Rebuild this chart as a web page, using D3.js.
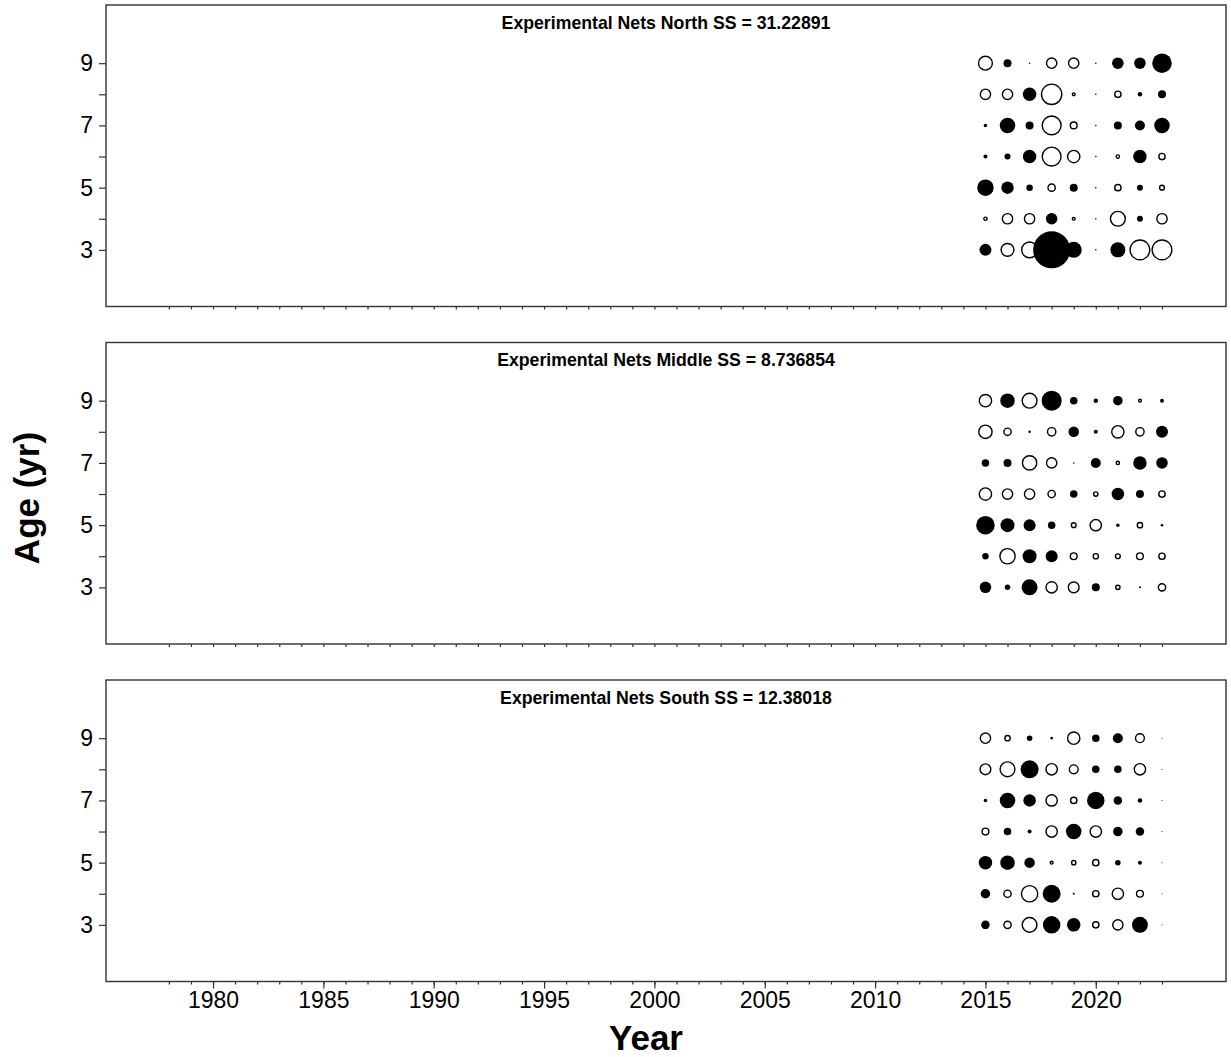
<!DOCTYPE html>
<head>
<meta charset="utf-8">
<script src="https://d3js.org/d3.v7.min.js"></script>
<style>
  body { margin: 0; background: #fff; }
  svg text { font-family: "Liberation Sans", Arial, sans-serif; fill: #000; }
</style>
</head>
<body>
<div id="my_dataviz"></div>
<script>

// years and ages of the bubble grid
var years = [2015, 2016, 2017, 2018, 2019, 2020, 2021, 2022, 2023];
var ages = [3, 4, 5, 6, 7, 8, 9];

var panelTitles = [
  "Experimental Nets North SS = 31.22891",
  "Experimental Nets Middle SS = 8.736854",
  "Experimental Nets South SS = 12.38018"
];

// residuals, one row per age (3..9), one column per year; positive = filled
var northRes = [
  [ 1.2, -1.4, -1.7,  3.7,  1.6, 0.15,  1.5, -2.1, -2.1],
  [-0.45, -1.15, -1.15, 1.15, -0.4, 0.15, -1.6, 0.6, -1.15],
  [ 1.65, 1.25, 0.65, -0.85, 0.8, 0.15, -0.75, 0.6, -0.6],
  [ 0.4, 0.6, 1.35, -2.0, -1.35, 0.15, -0.45, 1.35, -0.75],
  [ 0.35, 1.55, 0.8, -2.0, -0.8, 0.15, 0.8, 1.0, 1.55],
  [-1.15, -1.15, 1.35, -2.15, -0.4, 0.15, -0.75, 0.45, 0.8],
  [-1.5, 0.8, 0.15, -1.15, -1.15, 0.15, 1.15, 1.15, 1.95]
];
var middleRes = [
  [ 1.15, 0.55, 1.6, -1.25, -1.2, 0.8, -0.55, 0.2, -0.85],
  [ 0.65, -1.65, 1.4, 1.2, -0.8, -0.65, -0.6, -0.8, -0.75],
  [ 1.85, 1.4, 1.2, 0.75, -0.6, -1.25, 0.35, -0.65, 0.25],
  [-1.35, -1.15, -1.15, -0.85, 0.75, -0.55, 1.25, 0.8, -0.75],
  [ 0.75, 0.8, -1.55, -1.15, 0.15, 1.0, -0.45, 1.35, 1.15],
  [-1.45, -0.85, 0.25, -0.95, 1.05, 0.4, -1.35, -0.95, 1.2],
  [-1.35, 1.45, -1.6, 2.0, 0.75, 0.45, 0.95, -0.4, 0.4]
];
var southRes = [
  [ 0.85, -0.85, -1.6, 1.75, 1.35, -0.75, -1.15, 1.6, 0.1],
  [ 0.95, -0.85, -1.75, 1.8, 0.2, -0.75, -1.25, -0.8, 0.1],
  [ 1.35, 1.45, 1.05, -0.4, -0.55, -0.75, 0.55, 0.4, 0.1],
  [-0.8, 0.75, 0.4, -1.25, 1.55, -1.25, 0.95, 0.85, 0.1],
  [ 0.35, 1.55, 1.25, -1.25, -0.75, 1.75, 0.85, 0.45, 0.1],
  [-1.2, -1.6, 1.8, -1.25, -1.0, 0.75, 0.75, -1.25, 0.1],
  [-1.15, -0.65, 0.55, -0.25, -1.35, 0.75, 1.0, -1.0, 0.1]
];

var yTicks = [3, 4, 5, 6, 7, 8, 9];
var xMinorTicks = d3.range(1978, 2024);
var xMajorTicks = [1980, 1985, 1990, 1995, 2000, 2005, 2010, 2015, 2020];

var panels = [northRes, middleRes, southRes];

// dimensions
var W = 1231, H = 1057;
var left = 106, plotW = 1120;
var top0 = 5, plotH = 301.5, step = 337.5;

var svg = d3.select("#my_dataviz")
  .append("svg")
  .attr("width", W)
  .attr("height", H);

var x = d3.scaleLinear()
  .domain([1975.15, 2025.9])
  .range([0, plotW]);

var y = d3.scaleLinear()
  .domain([1.18, 10.87])
  .range([plotH, 0]);

// bubble radius from |residual|
var r = d3.scaleLinear()
  .domain([0, 4])
  .range([0, 20]);

panels.forEach(function (res, i) {
  var g = svg.append("g")
    .attr("transform", "translate(" + left + "," + (top0 + i * step) + ")");

  // flatten grid, year-major so later years draw on top
  var cells = [];
  years.forEach(function (yr, j) {
    ages.forEach(function (a, k) {
      cells.push({ year: yr, age: a, v: res[k][j] });
    });
  });

  // y axis
  var yAx = g.append("g")
    .call(d3.axisLeft(y)
      .tickValues(yTicks)
      .tickSize(7)
      .tickPadding(6)
      .tickFormat(function (d) { return d % 2 ? d : ""; }));
  yAx.select(".domain").remove();
  yAx.selectAll("line").attr("stroke", "#333").attr("stroke-width", 1.2);
  yAx.selectAll("text")
    .style("font-size", "23px")
    .style("font-family", "'Liberation Sans', Arial, sans-serif");

  // x axis minor ticks
  var xAx = g.append("g")
    .attr("transform", "translate(0," + plotH + ")")
    .call(d3.axisBottom(x).tickValues(xMinorTicks).tickSize(3).tickFormat(""));
  xAx.select(".domain").remove();
  xAx.selectAll("line").attr("stroke", "#333").attr("stroke-width", 1.2);

  if (i == panels.length - 1) {
    var xMaj = g.append("g")
      .attr("transform", "translate(0," + plotH + ")")
      .call(d3.axisBottom(x).tickValues(xMajorTicks).tickSize(7).tickPadding(3).tickFormat(d3.format("d")));
    xMaj.select(".domain").remove();
    xMaj.selectAll("line").attr("stroke", "#333").attr("stroke-width", 1.2);
    xMaj.selectAll("text")
      .style("font-size", "23px")
      .style("font-family", "'Liberation Sans', Arial, sans-serif");
  }

  // frame
  g.append("rect")
    .attr("x", 0)
    .attr("y", 0)
    .attr("width", plotW)
    .attr("height", plotH)
    .attr("fill", "none")
    .attr("stroke", "#333")
    .attr("stroke-width", 1.4);

  // title
  g.append("text")
    .attr("x", plotW / 2)
    .attr("y", 23.5)
    .attr("text-anchor", "middle")
    .style("font-size", "17.7px")
    .style("font-weight", "bold")
    .text(panelTitles[i]);

  // bubbles
  g.append("g")
    .selectAll("circle")
    .data(cells)
    .enter()
    .append("circle")
    .attr("cx", function (d) { return x(d.year); })
    .attr("cy", function (d) { return y(d.age); })
    .attr("r", function (d) { return d.v > 0 ? r(d.v) : Math.max(r(-d.v) - 0.6, 0.3); })
    .attr("fill", function (d) { return d.v > 0 ? "#000" : "none"; })
    .attr("stroke", "#000")
    .attr("stroke-width", function (d) { return d.v > 0 ? 0 : 1.4; });
});

// axis titles
svg.append("text")
  .attr("transform", "translate(39,498) rotate(-90)")
  .attr("text-anchor", "middle")
  .style("font-size", "35px")
  .style("font-weight", "bold")
  .text("Age (yr)");

svg.append("text")
  .attr("x", 646)
  .attr("y", 1050)
  .attr("text-anchor", "middle")
  .style("font-size", "35px")
  .style("font-weight", "bold")
  .text("Year");

</script>
</body>
